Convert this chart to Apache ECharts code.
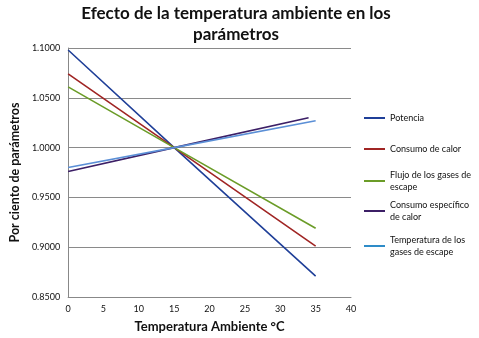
<!DOCTYPE html>
<html><head><meta charset="utf-8">
<script src="https://cdn.jsdelivr.net/npm/echarts@6/dist/echarts.min.js"></script>
<style>html,body{margin:0;padding:0;background:#fff}#c{width:479px;height:338px}</style>
</head><body><div id="c"></div>
<script>
const xTicks = [0, 5, 10, 15, 20, 25, 30, 35, 40];
const yTicks = [0.85, 0.90, 0.95, 1.00, 1.05, 1.10];
const seriesNames = ['Potencia', 'Consumo de calor', 'Flujo de los gases de escape', 'Consumo específico de calor', 'Temperatura de los gases de escape'];
const legendLabels = ['Potencia', 'Consumo de calor', 'Flujo de los gases de\nescape', 'Consumo específico\nde calor', 'Temperatura de los\ngases de escape'];
const potencia = [[0, 1.098], [15, 1.000], [35, 0.871]];
const consumoCalor = [[0, 1.074], [15, 1.000], [35, 0.901]];
const flujoGases = [[0, 1.061], [15, 1.000], [35, 0.919]];
const consumoEspecifico = [[0, 0.976], [15, 1.000], [34, 1.030]];
const temperaturaGases = [[0, 0.980], [15, 1.000], [35, 1.027]];
const allData = [potencia, consumoCalor, flujoGases, consumoEspecifico, temperaturaGases];
const colors = ['#1f3f98', '#a02524', '#6b9c28', '#3c1f66', '#5b8fd6'];
const legendColors = ['#1f3f98', '#a02524', '#6b9c28', '#3c1f66', '#2e8cc8'];
const legendTops = [118, 149, 181, 211, 246];

const chart = echarts.init(document.getElementById('c'), null, {renderer: 'canvas'});
const font = 'Lato, "Open Sans", sans-serif';
const legends = seriesNames.map((n, i) => {
  const twoLine = legendLabels[i].indexOf('\n') >= 0;
  return {
    left: 364, top: legendTops[i] - 6 - (twoLine ? 12 : 0),
    orient: 'vertical', padding: 0,
    icon: 'rect', itemWidth: 21, itemHeight: 2,
    data: [{name: n, itemStyle: {color: legendColors[i]}}],
    formatter: () => legendLabels[i],
    textStyle: {fontFamily: font, fontSize: 9, color: '#111', lineHeight: 12,
      padding: twoLine ? [12, 0, 0, 0] : 0}
  };
});
chart.setOption({
  animation: false,
  title: {
    text: 'Efecto de la temperatura ambiente en los\nparámetros',
    left: 236, top: 3, textAlign: 'center', padding: 0,
    textStyle: {fontFamily: font, fontSize: 17, fontWeight: 'bold', color: '#111', lineHeight: 21}
  },
  grid: {left: 61, right: 128, top: 48, bottom: 41, containLabel: false},
  legend: legends,
  xAxis: {
    type: 'value', min: 0, max: 40, interval: 5,
    name: 'Temperatura Ambiente °C', nameLocation: 'middle', nameGap: 23,
    nameTextStyle: {fontFamily: font, fontSize: 13, fontWeight: 'bold', color: '#111'},
    axisLine: {show: true, lineStyle: {color: '#888', width: 1}},
    axisTick: {show: false},
    splitLine: {show: false},
    axisLabel: {fontFamily: font, fontSize: 9, color: '#111', margin: 8,
      formatter: v => xTicks.includes(v) ? String(v) : ''}
  },
  yAxis: {
    type: 'value', min: 0.85, max: 1.10, interval: 0.05,
    name: 'Por ciento de parámetros', nameLocation: 'middle', nameGap: 40,
    nameTextStyle: {fontFamily: font, fontSize: 12.5, fontWeight: 'bold', color: '#111'},
    axisLine: {show: true, lineStyle: {color: '#888', width: 1}},
    axisTick: {show: false},
    splitLine: {show: true, lineStyle: {color: '#8a8a8a', width: 1}},
    axisLabel: {fontFamily: font, fontSize: 9, color: '#111', margin: 8,
      formatter: v => v.toFixed(4)}
  },
  series: seriesNames.map((n, i) => ({
    name: n, type: 'line', data: allData[i], symbol: 'none',
    lineStyle: {color: colors[i], width: 1.6}, itemStyle: {color: colors[i]}
  }))
});
</script></body></html>
